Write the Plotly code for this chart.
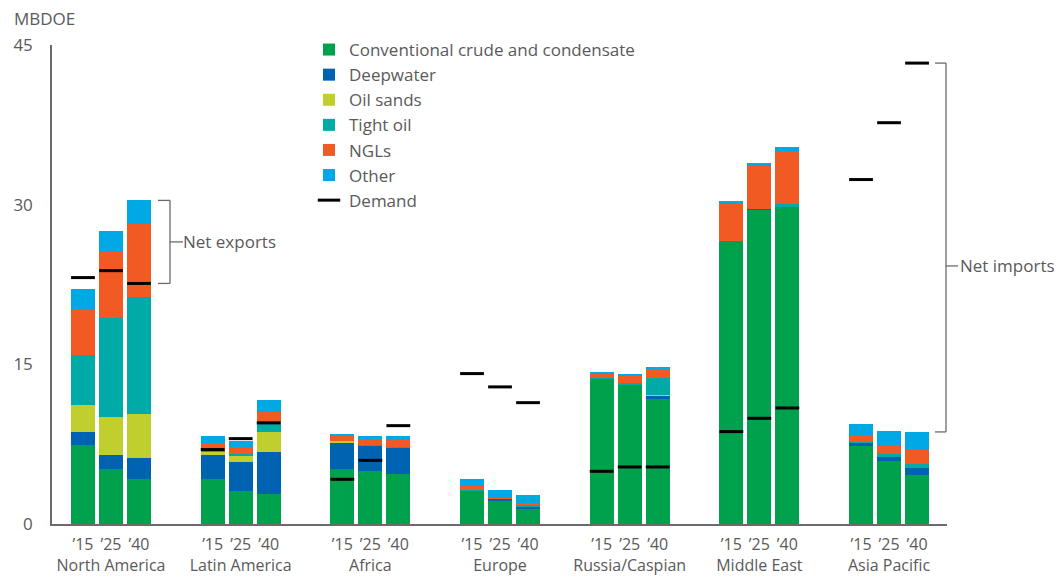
import plotly.graph_objects as go

regions = ["North America", "Latin America", "Africa", "Europe", "Russia/Caspian", "Middle East", "Asia Pacific"]
years = ["’15", "’25", "’40"]

# MBDOE, per region x year ('15, '25, '40)
conventional = [7.42, 5.17, 4.23,  4.23, 3.10, 2.82,  5.17, 4.98, 4.70,  3.10, 2.16, 1.41,
                13.66, 13.13, 11.75,  26.60, 29.54, 29.80,  7.36, 5.92, 4.60]
deepwater = [1.23, 1.31, 1.97,  2.25, 2.73, 3.95,  2.53, 2.38, 2.47,  0.00, 0.19, 0.28,
             0.00, 0.00, 0.31,  0.00, 0.05, 0.00,  0.28, 0.38, 0.66]
oil_sands = [2.53, 3.58, 4.14,  0.32, 0.56, 1.88,  0.08, 0.00, 0.00,  0.00, 0.00, 0.00,
             0.00, 0.00, 0.05,  0.00, 0.00, 0.00,  0.00, 0.00, 0.00]
tight_oil = [4.72, 9.34, 10.96,  0.10, 0.19, 0.81,  0.00, 0.05, 0.05,  0.06, 0.00, 0.06,
             0.10, 0.13, 1.64,  0.00, 0.00, 0.30,  0.05, 0.30, 0.41]
ngls = [4.20, 6.20, 6.90,  0.68, 0.62, 1.07,  0.49, 0.58, 0.68,  0.41, 0.09, 0.19,
        0.40, 0.64, 0.82,  3.50, 4.09, 4.96,  0.67, 0.76, 1.31]
other = [2.00, 1.90, 2.20,  0.69, 0.63, 1.12,  0.19, 0.28, 0.37,  0.66, 0.76, 0.79,
         0.13, 0.20, 0.19,  0.26, 0.25, 0.37,  1.04, 1.38, 1.67]
demand = [23.15, 23.80, 22.60,  7.00, 8.02, 9.50,  4.20, 5.98, 9.24,  14.13, 12.88, 11.40,
          4.95, 5.36, 5.36,  8.68, 9.93, 10.90,  32.36, 37.70, 43.30]

series = [
    ("Conventional crude and condensate", conventional, "#00A14D"),
    ("Deepwater", deepwater, "#0063B2"),
    ("Oil sands", oil_sands, "#C0CE2E"),
    ("Tight oil", tight_oil, "#00AAA7"),
    ("NGLs", ngls, "#F15A23"),
    ("Other", other, "#00A9E4"),
]

OFF = 0.216
BW = 0.185
xs = []
ticktext = []
for g, reg in enumerate(regions):
    for k, yr in enumerate(years):
        xs.append(g + (k - 1) * OFF)
        ticktext.append(yr + "<br>" + reg if k == 1 else yr)

TXT = "#5a5a5a"
AX = "#6b6b6b"
FONT = "Open Sans"

fig = go.Figure()
for name, vals, col in series:
    fig.add_trace(go.Bar(x=xs, y=vals, name=name, width=BW, marker=dict(color=col, line=dict(width=0))))

fig.add_trace(go.Scatter(
    x=xs, y=demand, name="Demand", mode="markers", cliponaxis=False,
    marker=dict(symbol="line-ew", size=17, line=dict(color="black", width=3), color="black"),
))

totals = [sum(s[1][i] for s in series) for i in range(len(xs))]

YMAX = 45.0
def yp(v):
    return v / YMAX

def xp(px):
    return (px - 52) / 895.0

shapes = []
annotations = []
# Net exports bracket: North America '40 supply vs demand
top, bot = totals[2], demand[2]
x0, x1, x2 = xp(158), xp(170), xp(183)
for yv in (top, bot):
    shapes.append(dict(type="line", xref="paper", yref="paper", x0=x0, x1=x1, y0=yp(yv), y1=yp(yv),
                       line=dict(color=AX, width=1.3)))
shapes.append(dict(type="line", xref="paper", yref="paper", x0=x1, x1=x1, y0=yp(bot), y1=yp(top),
                   line=dict(color=AX, width=1.3)))
mid = (top + bot) / 2
shapes.append(dict(type="line", xref="paper", yref="paper", x0=x1, x1=x2, y0=yp(mid), y1=yp(mid),
                   line=dict(color=AX, width=1.3)))
annotations.append(dict(text="Net exports", xref="paper", yref="paper", x=x2, y=yp(mid),
                        xanchor="left", yanchor="middle", showarrow=False, xshift=-2,
                        font=dict(size=17, color=TXT, family=FONT)))

# Net imports bracket: Asia Pacific '40 demand vs supply
top, bot = demand[20], totals[20]
x0, x1, x2 = xp(935), xp(946), xp(958)
for yv in (top, bot):
    shapes.append(dict(type="line", xref="paper", yref="paper", x0=x0, x1=x1, y0=yp(yv), y1=yp(yv),
                       line=dict(color=AX, width=1.3)))
shapes.append(dict(type="line", xref="paper", yref="paper", x0=x1, x1=x1, y0=yp(bot), y1=yp(top),
                   line=dict(color=AX, width=1.3)))
mid = bot + 0.45 * (top - bot)
shapes.append(dict(type="line", xref="paper", yref="paper", x0=x1, x1=x2, y0=yp(mid), y1=yp(mid),
                   line=dict(color=AX, width=1.3)))
annotations.append(dict(text="Net imports", xref="paper", yref="paper", x=x2, y=yp(mid),
                        xanchor="left", yanchor="middle", showarrow=False, xshift=0,
                        font=dict(size=17, color=TXT, family=FONT)))

annotations.append(dict(text="MBDOE", xref="paper", yref="paper", x=xp(12), y=(524 - 19) / 479.0,
                        xanchor="left", yanchor="middle", showarrow=False,
                        font=dict(size=17, color=TXT, family=FONT)))

fig.update_layout(
    width=1059, height=578,
    margin=dict(l=52, r=112, t=45, b=54, autoexpand=False),
    barmode="stack",
    bargap=0,
    plot_bgcolor="white", paper_bgcolor="white",
    font=dict(family=FONT, color=TXT, size=17),
    shapes=shapes,
    annotations=annotations,
    legend=dict(x=xp(309), y=(524 - 32) / 479.0, xanchor="left", yanchor="top",
                traceorder="normal", font=dict(size=17, color=TXT, family=FONT),
                bgcolor="rgba(0,0,0,0)", borderwidth=0),
    showlegend=True,
)
fig.update_xaxes(range=[-0.455, 6.447], showline=True, linecolor=AX, linewidth=1.5,
                 showgrid=False, zeroline=False, tickmode="array", tickvals=xs, ticktext=ticktext,
                 ticks="", tickfont=dict(size=16, color=TXT, family=FONT), ticklabelstandoff=5,
                 tickangle=0, fixedrange=True, automargin=False)
fig.update_yaxes(range=[0, YMAX], showline=True, linecolor=AX, linewidth=1.5,
                 showgrid=False, zeroline=False, tickmode="array", tickvals=[0, 15, 30, 45],
                 ticks="", tickfont=dict(size=17, color=TXT, family=FONT), ticklabelstandoff=14,
                 fixedrange=True, automargin=False)

fig.write_html("out.html", config={"displayModeBar": False},
               post_script="document.body.style.margin='0';document.body.style.overflow='hidden';")
